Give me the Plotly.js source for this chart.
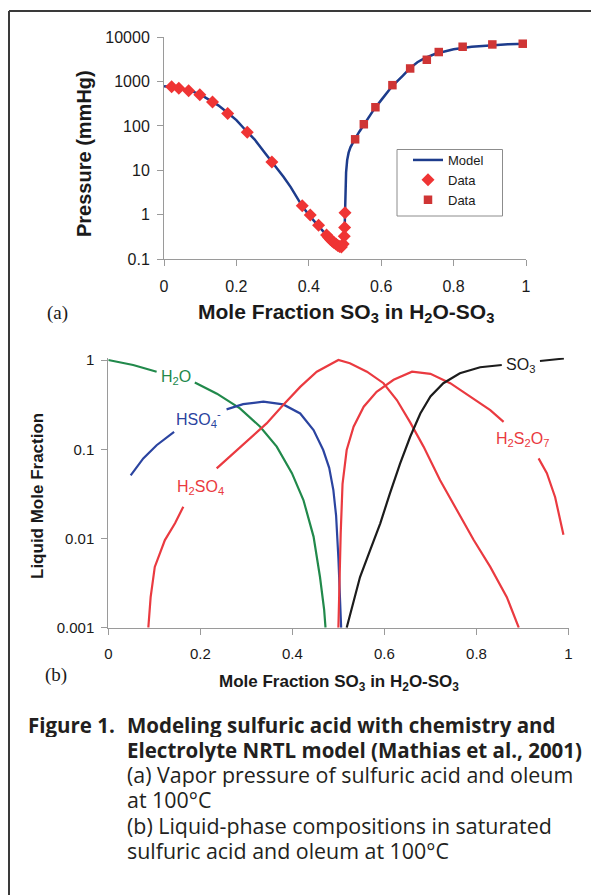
<!DOCTYPE html>
<html>
<head>
<meta charset="utf-8">
<script src="https://cdn.plot.ly/plotly-3.0.1.min.js"></script>
<style>html,body{margin:0;padding:0;background:#fff;} #chart{width:591px;height:895px;}</style>
</head>
<body>
<div id="chart"></div>
<script>
// ---------- Panel (a): vapor pressure ----------
const modelX = [0, 0.02, 0.05, 0.08, 0.1, 0.13, 0.15, 0.18, 0.2, 0.23, 0.25, 0.28, 0.3, 0.33, 0.35, 0.38, 0.4, 0.43, 0.45, 0.47, 0.48, 0.487, 0.493, 0.497, 0.499, 0.5, 0.501, 0.503, 0.506, 0.51, 0.515, 0.52, 0.53, 0.54, 0.55, 0.58, 0.6, 0.63, 0.66, 0.68, 0.7, 0.72, 0.75, 0.8, 0.85, 0.9, 0.95, 1.0];
const modelP = [780, 750, 680, 590, 510, 370, 290, 185, 135, 73, 50, 24, 15, 7.2, 4.2, 1.65, 1.0, 0.52, 0.34, 0.235, 0.205, 0.19, 0.2, 0.28, 0.5, 1.2, 2.5, 9, 17, 25, 33, 40, 55, 75, 100, 235, 380, 780, 1350, 2000, 2700, 3350, 4200, 5300, 6000, 6500, 6850, 7050];
const diamondX = [0.021, 0.041, 0.068, 0.099, 0.134, 0.176, 0.230, 0.298, 0.382, 0.404, 0.427, 0.449, 0.455, 0.46, 0.465, 0.47, 0.475, 0.48, 0.485, 0.49, 0.495, 0.498, 0.499, 0.5];
const diamondP = [760, 700, 620, 505, 345, 190, 72, 15.5, 1.6, 0.99, 0.58, 0.35, 0.31, 0.28, 0.255, 0.235, 0.22, 0.205, 0.195, 0.19, 0.22, 0.33, 0.52, 1.12];
const squareX = [0.528, 0.552, 0.584, 0.631, 0.680, 0.726, 0.759, 0.825, 0.907, 0.991];
const squareP = [50, 109, 263, 825, 1960, 3075, 4590, 6040, 6800, 7060];
const xTicksA = [0, 0.2, 0.4, 0.6, 0.8, 1];
const xTickTextA = ['0', '0.2', '0.4', '0.6', '0.8', '1'];
const yTicksA = [0.1, 1, 10, 100, 1000, 10000];
const yTickTextA = ['0.1', '1', '10', '100', '1000', '10000'];

// ---------- Panel (b): liquid mole fractions (null = gap left for label) ----------
const h2oX = [0, 0.054, 0.105, null, 0.188, 0.236, 0.286, 0.33, 0.366, 0.399, 0.424, 0.446, 0.46, 0.469, 0.472];
const h2oY = [1.0, 0.88, 0.74, null, 0.56, 0.42, 0.287, 0.179, 0.107, 0.054, 0.027, 0.0105, 0.0037, 0.0016, 0.001];
const hso4X = [0.0486, 0.076, 0.105, 0.143, null, 0.257, 0.293, 0.337, 0.38, 0.417, 0.446, 0.467, 0.48, 0.489, 0.495, 0.5, 0.503, 0.506];
const hso4Y = [0.051, 0.079, 0.111, 0.157, null, 0.28, 0.32, 0.341, 0.318, 0.252, 0.164, 0.098, 0.062, 0.035, 0.018, 0.006, 0.0025, 0.001];
const h2so4X = [0.087, 0.092, 0.101, 0.123, 0.145, 0.163, null, 0.2355, 0.272, 0.308, 0.344, 0.38, 0.417, 0.453, 0.5, 0.525, 0.562, 0.598, 0.627, 0.656, 0.685, 0.721, 0.757, 0.794, 0.83, 0.866, 0.892];
const h2so4Y = [0.001, 0.0022, 0.0048, 0.0096, 0.0148, 0.0227, null, 0.061, 0.09, 0.132, 0.195, 0.313, 0.50, 0.74, 1.0, 0.92, 0.74, 0.55, 0.356, 0.2, 0.107, 0.045, 0.021, 0.0096, 0.0048, 0.0022, 0.001];
const h2s2o7X = [0.5, 0.502, 0.505, 0.509, 0.518, 0.533, 0.555, 0.583, 0.62, 0.66, 0.7, 0.743, 0.786, 0.83, 0.859, null, 0.935, 0.953, 0.971, 0.989];
const h2s2o7Y = [0.001, 0.0031, 0.0114, 0.041, 0.098, 0.179, 0.30, 0.44, 0.60, 0.74, 0.70, 0.55, 0.39, 0.275, 0.203, null, 0.079, 0.054, 0.029, 0.011];
const so3X = [0.518, 0.533, 0.547, 0.569, 0.591, 0.612, 0.634, 0.656, 0.678, 0.7, 0.728, 0.764, 0.808, 0.855, null, 0.938, 0.99];
const so3Y = [0.001, 0.002, 0.0037, 0.0074, 0.0148, 0.032, 0.069, 0.138, 0.252, 0.39, 0.55, 0.71, 0.83, 0.88, null, 0.975, 1.04];
const yTicksB = [0.001, 0.01, 0.1, 1];
const yTickTextB = ['0.001', '0.01', '0.1', '1'];

// ---------- Caption ----------
const captionLabel = 'Figure 1.';
const captionBold = ['Modeling sulfuric acid with chemistry and', 'Electrolyte NRTL model (Mathias et al., 2001)'];
const captionPlain = ['(a) Vapor pressure of sulfuric acid and oleum', 'at 100°C', '(b) Liquid-phase compositions in saturated', 'sulfuric acid and oleum at 100°C'];

const W = 591, H = 895;
const px = v => v / W;
const py = v => 1 - v / H;
const ARIAL = 'Arial, "Liberation Sans", sans-serif';
const CAP = '"Open Sans", "Noto Sans", sans-serif';
const axisCol = '#9a9a9a';

const traces = [
  {x: modelX, y: modelP, xaxis: 'x', yaxis: 'y', mode: 'lines', name: 'Model',
   line: {color: '#1d3c8c', width: 2.5}},
  {x: diamondX, y: diamondP, xaxis: 'x', yaxis: 'y', mode: 'markers', name: 'Data', cliponaxis: false,
   marker: {symbol: 'diamond', size: 10, color: '#ef3434'}},
  {x: squareX, y: squareP, xaxis: 'x', yaxis: 'y', mode: 'markers', name: 'Data', cliponaxis: false,
   marker: {symbol: 'square', size: 8.5, color: '#cf3535'}},
  {x: h2oX, y: h2oY, xaxis: 'x2', yaxis: 'y2', mode: 'lines', showlegend: false, connectgaps: false,
   line: {color: '#21894b', width: 2.2}},
  {x: hso4X, y: hso4Y, xaxis: 'x2', yaxis: 'y2', mode: 'lines', showlegend: false, connectgaps: false,
   line: {color: '#2b44a0', width: 2.2}},
  {x: h2so4X, y: h2so4Y, xaxis: 'x2', yaxis: 'y2', mode: 'lines', showlegend: false, connectgaps: false,
   line: {color: '#ea3a40', width: 2.2}},
  {x: h2s2o7X, y: h2s2o7Y, xaxis: 'x2', yaxis: 'y2', mode: 'lines', showlegend: false, connectgaps: false,
   line: {color: '#ea3a40', width: 2.2}},
  {x: so3X, y: so3Y, xaxis: 'x2', yaxis: 'y2', mode: 'lines', showlegend: false, connectgaps: false,
   line: {color: '#1c1c1c', width: 2.2}}
];

const axBase = {showline: true, linecolor: axisCol, linewidth: 1, ticks: 'outside', ticklen: 6,
  tickcolor: axisCol, showgrid: false, zeroline: false, fixedrange: true};

function ann(text, x, y, size, opts) {
  return Object.assign({text: text, x: px(x), y: py(y), xref: 'paper', yref: 'paper', showarrow: false,
    xanchor: 'center', yanchor: 'middle', font: {family: ARIAL, size: size, color: '#1a1a1a'}}, opts || {});
}
const SERIF = {family: '"Liberation Serif", "Times New Roman", serif', size: 19, color: '#1a1a1a'};

const annotations = [
  ann('<b>Pressure (mmHg)</b>', 84, 154, 20, {textangle: -90}),
  ann('<b>Mole Fraction SO<sub>3</sub> in H<sub>2</sub>O-SO<sub>3</sub></b>', 346, 313, 21),
  ann('(a)', 57, 313, 19, {font: SERIF}),
  ann('<b>Liquid Mole Fraction</b>', 37, 496, 17, {textangle: -90}),
  ann('<b>Mole Fraction SO<sub>3</sub> in H<sub>2</sub>O-SO<sub>3</sub></b>', 339, 683, 17),
  ann('(b)', 56, 675, 19, {font: SERIF}),
  ann('H<sub>2</sub>O', 176, 377, 16, {font: {family: ARIAL, size: 16, color: '#21894b'}}),
  ann('HSO<sub>4</sub><sup>-</sup>', 199, 419, 16, {font: {family: ARIAL, size: 16, color: '#2b44a0'}}),
  ann('H<sub>2</sub>SO<sub>4</sub>', 200, 487, 16, {font: {family: ARIAL, size: 16, color: '#ea3a40'}}),
  ann('SO<sub>3</sub>', 520, 365, 16, {font: {family: ARIAL, size: 16, color: '#1c1c1c'}}),
  ann('H<sub>2</sub>S<sub>2</sub>O<sub>7</sub>', 522, 440, 16, {font: {family: ARIAL, size: 16, color: '#ea3a40'}})
];

const capBoldFont = {family: CAP, size: 20.5, color: '#231f20'};
const capPlainFont = {family: CAP, size: 21.4, color: '#231f20'};
function capAnn(text, x, y, font) {
  return {text: text, x: px(x), y: py(y), xref: 'paper', yref: 'paper', showarrow: false,
    xanchor: 'left', yanchor: 'middle', height: 25, valign: 'middle', font: font};
}
const capY = [724, 749.3, 774.6, 799.9, 825.2, 850.5];
annotations.push(capAnn('<b>' + captionLabel + '</b>', 26, capY[0], capBoldFont));
captionBold.forEach((t, i) => annotations.push(capAnn('<b>' + t + '</b>', 125, capY[i], capBoldFont)));
captionPlain.forEach((t, i) => annotations.push(capAnn(t, 125, capY[i + 2], capPlainFont)));

const layout = {
  width: W, height: H,
  margin: {l: 0, r: 0, t: 0, b: 0},
  paper_bgcolor: '#ffffff', plot_bgcolor: 'rgba(0,0,0,0)',
  font: {family: ARIAL, color: '#1a1a1a'},
  showlegend: true,
  legend: {x: px(408), y: py(145), xanchor: 'left', yanchor: 'top', bgcolor: 'rgba(0,0,0,0)',
    borderwidth: 0, font: {family: ARIAL, size: 13, color: '#1a1a1a'}, tracegroupgap: 0},
  xaxis: Object.assign({}, axBase, {domain: [px(164), px(526)], range: [0, 1], anchor: 'y',
    tickvals: xTicksA, ticktext: xTickTextA, tickfont: {family: ARIAL, size: 16, color: '#1a1a1a'}, ticklabelstandoff: 6}),
  yaxis: Object.assign({}, axBase, {domain: [py(259.3), py(37)], type: 'log', range: [-1, 4], anchor: 'x',
    tickvals: yTicksA, ticktext: yTickTextA, tickfont: {family: ARIAL, size: 16, color: '#1a1a1a'}, ticklabelstandoff: 4}),
  xaxis2: Object.assign({}, axBase, {domain: [px(108.3), px(568.5)], range: [0, 1], anchor: 'y2',
    tickvals: xTicksA, ticktext: xTickTextA, tickfont: {family: ARIAL, size: 15, color: '#1a1a1a'}, ticklabelstandoff: 6}),
  yaxis2: Object.assign({}, axBase, {domain: [py(627.7), py(357.8)], type: 'log', range: [-3, 0.025], anchor: 'x2',
    tickvals: yTicksB, ticktext: yTickTextB, tickfont: {family: ARIAL, size: 15, color: '#1a1a1a'}, ticklabelstandoff: 4}),
  annotations: annotations,
  shapes: [
    {type: 'line', xref: 'paper', yref: 'paper', x0: px(9), x1: px(591), y0: py(11), y1: py(11),
     line: {color: '#3a3a3a', width: 2}},
    {type: 'line', xref: 'paper', yref: 'paper', x0: px(9), x1: px(9), y0: py(11), y1: py(895),
     line: {color: '#3a3a3a', width: 2}},
    {type: 'rect', xref: 'paper', yref: 'paper', x0: px(397), x1: px(502.5), y0: py(149.5), y1: py(216),
     line: {color: '#8c8c8c', width: 1}}
  ]
};

Plotly.newPlot('chart', traces, layout, {staticPlot: true, displayModeBar: false});
</script>
</body>
</html>
